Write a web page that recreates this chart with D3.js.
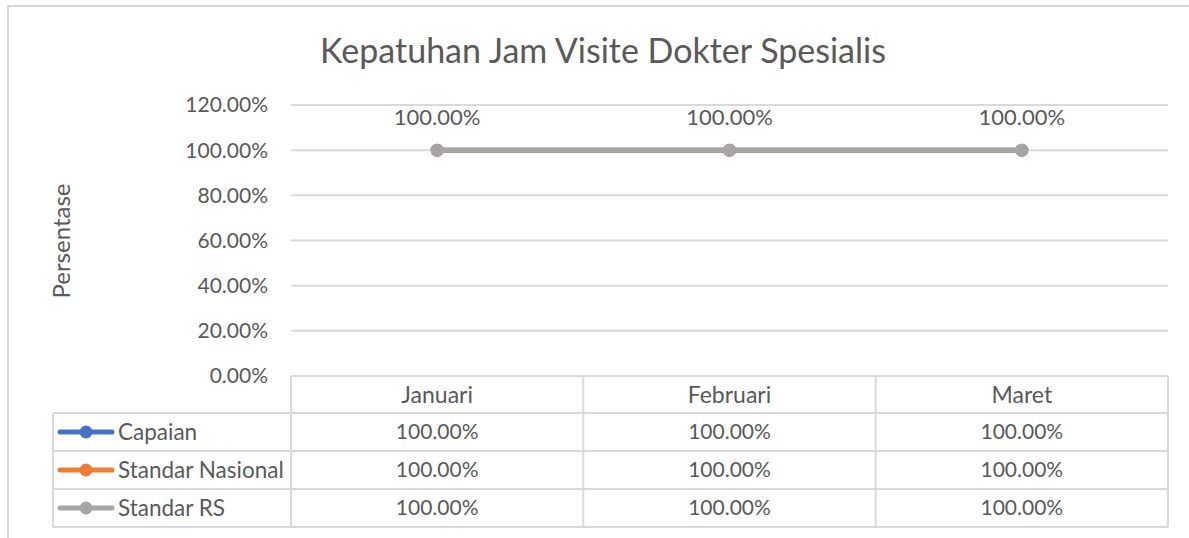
<!DOCTYPE html>
<meta charset="utf-8">
<script src="https://d3js.org/d3.v7.min.js"></script>
<style>
  body { margin: 0; background: #fff; }
  text { font-family: Lato, "Open Sans", sans-serif; fill: #595959; }
</style>
<div id="chart"></div>
<script>
  // data
  const months = ["Januari", "Februari", "Maret"];
  const seriesNames = ["Capaian", "Standar Nasional", "Standar RS"];
  const capaian = [1, 1, 1];
  const standarNasional = [1, 1, 1];
  const standarRS = [1, 1, 1];
  const yTicks = [0, 0.2, 0.4, 0.6, 0.8, 1.0, 1.2];
  const colors = ["#4472C4", "#ED7D31", "#A5A5A5"];

  const series = [capaian, standarNasional, standarRS];

  const W = 1189, H = 538;
  const svg = d3.select("#chart").append("svg")
    .attr("width", W).attr("height", H);

  const grid = "#D9D9D9";
  const fmt = d3.format(".2%");

  // outer border of the chart
  svg.append("rect")
    .attr("x", 8).attr("y", 6)
    .attr("width", W + 20).attr("height", H + 20)
    .attr("fill", "none").attr("stroke", grid).attr("stroke-width", 2);

  // title
  svg.append("text")
    .attr("x", 603).attr("y", 63)
    .attr("text-anchor", "middle")
    .style("font-size", "34px")
    .text("Kepatuhan Jam Visite Dokter Spesialis");

  const x = d3.scaleBand().domain(months).range([291, 1168]);
  const y = d3.scaleLinear().domain([0, 1.2]).range([376, 105]);
  const cx = d => x(d) + x.bandwidth() / 2;

  // gridlines
  svg.append("g").selectAll("line")
    .data(yTicks.filter(t => t > 0))
    .join("line")
    .attr("x1", 291).attr("x2", 1168)
    .attr("y1", d => y(d)).attr("y2", d => y(d))
    .attr("stroke", grid).attr("stroke-width", 2);

  // y tick labels
  svg.append("g").selectAll("text")
    .data(yTicks)
    .join("text")
    .attr("x", 268).attr("y", d => y(d))
    .attr("dy", "0.35em")
    .attr("text-anchor", "end")
    .style("font-size", "21px")
    .text(d => fmt(d));

  // y axis title
  svg.append("text")
    .attr("transform", "translate(70,241) rotate(-90)")
    .attr("text-anchor", "middle")
    .style("font-size", "24px")
    .text("Persentase");

  // lines and markers
  const line = d3.line().x((d, i) => cx(months[i])).y(d => y(d));
  series.forEach((s, k) => {
    svg.append("path")
      .datum(s)
      .attr("d", line)
      .attr("fill", "none")
      .attr("stroke", colors[k])
      .attr("stroke-width", 5);
    svg.append("g").selectAll("circle")
      .data(s)
      .join("circle")
      .attr("cx", (d, i) => cx(months[i]))
      .attr("cy", d => y(d))
      .attr("r", 6.5)
      .attr("fill", colors[k]);
  });

  // data labels (last series on top)
  svg.append("g").selectAll("text")
    .data(standarRS)
    .join("text")
    .attr("x", (d, i) => cx(months[i]))
    .attr("y", d => y(d) - 25)
    .attr("text-anchor", "middle")
    .style("font-size", "22px")
    .text(d => fmt(d));

  // data table
  const rowTop = [376, 413, 451, 489, 527];
  const tbl = svg.append("g");
  const colEdges = [291].concat(months.map(m => x(m) + x.bandwidth()));

  // horizontal lines
  rowTop.forEach((ry, i) => {
    tbl.append("line")
      .attr("x1", i === 0 ? 291 : 53).attr("x2", 1168)
      .attr("y1", ry).attr("y2", ry)
      .attr("stroke", grid).attr("stroke-width", 2);
  });
  // vertical lines
  colEdges.forEach(cxE => {
    tbl.append("line")
      .attr("x1", cxE).attr("x2", cxE)
      .attr("y1", 376).attr("y2", 527)
      .attr("stroke", grid).attr("stroke-width", 2);
  });
  tbl.append("line")
    .attr("x1", 53).attr("x2", 53)
    .attr("y1", 413).attr("y2", 527)
    .attr("stroke", grid).attr("stroke-width", 2);

  // header
  tbl.selectAll(".hdr")
    .data(months)
    .join("text")
    .attr("class", "hdr")
    .attr("x", d => cx(d))
    .attr("y", (rowTop[0] + rowTop[1]) / 2)
    .attr("dy", "0.35em")
    .attr("text-anchor", "middle")
    .style("font-size", "23px")
    .text(d => d);

  // rows
  series.forEach((s, k) => {
    const my = (rowTop[k + 1] + rowTop[k + 2]) / 2;
    tbl.append("line")
      .attr("x1", 60).attr("x2", 112)
      .attr("y1", my).attr("y2", my)
      .attr("stroke", colors[k]).attr("stroke-width", 5)
      .attr("stroke-linecap", "round");
    tbl.append("circle")
      .attr("cx", 86).attr("cy", my).attr("r", 6.5)
      .attr("fill", colors[k]);
    tbl.append("text")
      .attr("x", 118).attr("y", my)
      .attr("dy", "0.35em")
      .style("font-size", "22.5px")
      .text(seriesNames[k]);
    tbl.append("g").selectAll("text")
      .data(s)
      .join("text")
      .attr("x", (d, i) => cx(months[i]))
      .attr("y", my)
      .attr("dy", "0.35em")
      .attr("text-anchor", "middle")
      .style("font-size", "21px")
      .text(d => fmt(d));
  });
</script>
